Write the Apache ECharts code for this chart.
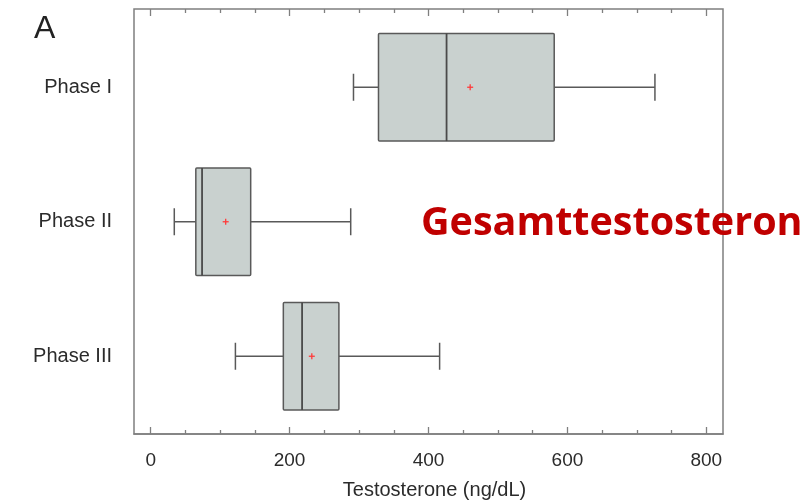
<!DOCTYPE html>
<html>
<head>
<meta charset="utf-8">
<script src="https://cdn.jsdelivr.net/npm/echarts@6/dist/echarts.min.js"></script>
<style>
  html, body { margin: 0; padding: 0; background: #fff; }
  #chart { width: 810px; height: 502px; }
</style>
</head>
<body>
<div id="chart"></div>
<script>
// values (ng/dL)
const phases = ['Phase I', 'Phase II', 'Phase III'];
const whiskerLow = [292, 34, 122];
const q1 = [328, 65, 191];
const median = [426, 74, 218];
const q3 = [581, 144, 271];
const whiskerHigh = [726, 288, 416];
const means = [460, 108, 232];

const majorTicks = [0, 200, 400, 600, 800];
const minorTicks = [50, 100, 150, 250, 300, 350, 450, 500, 550, 650, 700, 750];

const xMin = -24;
const xMax = 824;
const frameColor = '#7f7f7f';
const boxLine = '#595959';

const boxData = phases.map((p, i) => [i, whiskerLow[i], q1[i], median[i], q3[i], whiskerHigh[i], means[i]]);

// draws one box with whiskers, short caps and a red mean cross
function renderBox(params, api) {
    const cat = api.value(0);
    const lo = api.coord([api.value(1), cat]);
    const b1 = api.coord([api.value(2), cat]);
    const md = api.coord([api.value(3), cat]);
    const b3 = api.coord([api.value(4), cat]);
    const hi = api.coord([api.value(5), cat]);
    const mn = api.coord([api.value(6), cat]);
    const y = lo[1];
    const half = api.size([0, 1])[1] * 0.4;
    const cap = 13.5;
    const lineStyle = { stroke: boxLine, lineWidth: 1.5, fill: null };
    const red = { stroke: '#ff3b3b', lineWidth: 1.3 };

    return {
        type: 'group',
        children: [
            { type: 'line', shape: { x1: lo[0], y1: y, x2: b1[0], y2: y }, style: lineStyle },
            { type: 'line', shape: { x1: b3[0], y1: y, x2: hi[0], y2: y }, style: lineStyle },
            { type: 'line', shape: { x1: lo[0], y1: y - cap, x2: lo[0], y2: y + cap }, style: lineStyle },
            { type: 'line', shape: { x1: hi[0], y1: y - cap, x2: hi[0], y2: y + cap }, style: lineStyle },
            {
                type: 'rect',
                shape: { x: b1[0], y: y - half, width: b3[0] - b1[0], height: half * 2, r: 1 },
                style: { fill: '#c9d1cf', stroke: boxLine, lineWidth: 1.5 }
            },
            { type: 'line', shape: { x1: md[0], y1: y - half, x2: md[0], y2: y + half }, style: { stroke: '#4a4a4a', lineWidth: 1.8 } },
            { type: 'line', shape: { x1: mn[0] - 3, y1: mn[1], x2: mn[0] + 3, y2: mn[1] }, style: red },
            { type: 'line', shape: { x1: mn[0], y1: mn[1] - 3, x2: mn[0], y2: mn[1] + 3 }, style: red }
        ]
    };
}

function tickAxis(position, values, length, withLabels) {
    return {
        type: 'value',
        gridIndex: 0,
        position: position,
        min: xMin,
        max: xMax,
        axisLine: { show: withLabels, lineStyle: { color: frameColor, width: 1.5 } },
        axisTick: { show: true, inside: true, length: length, customValues: values, lineStyle: { color: frameColor, width: 1.3 } },
        axisLabel: withLabels
            ? { show: true, customValues: values, fontSize: 19, color: '#2b2b2b', margin: 17, fontFamily: 'Liberation Sans' }
            : { show: false },
        splitLine: { show: false }
    };
}

const chart = echarts.init(document.getElementById('chart'));

const bottomAxis = tickAxis('bottom', majorTicks, 7, true);
bottomAxis.name = 'Testosterone (ng/dL)';
bottomAxis.nameLocation = 'middle';
bottomAxis.nameGap = 46;
bottomAxis.nameTextStyle = { fontSize: 20, color: '#2b2b2b', fontFamily: 'Liberation Sans', padding: [0, 0, 0, 12] };

chart.setOption({
    animation: false,
    backgroundColor: '#fff',
    textStyle: { fontFamily: 'Liberation Sans' },
    grid: [
        { left: 134, right: 87, top: 9, bottom: 68, outerBoundsMode: 'none', show: true, borderColor: frameColor, borderWidth: 1.5, backgroundColor: 'transparent' },
        { left: 134, right: 87, top: 20, bottom: 78.5, outerBoundsMode: 'none' }
    ],
    xAxis: [
        bottomAxis,
        tickAxis('bottom', minorTicks, 4, false),
        tickAxis('top', majorTicks, 7, false),
        tickAxis('top', minorTicks, 4, false),
        { type: 'value', gridIndex: 1, min: xMin, max: xMax, show: false }
    ],
    yAxis: [
        { type: 'value', gridIndex: 0, min: 0, max: 1, show: false },
        {
            type: 'category',
            gridIndex: 1,
            data: phases,
            inverse: true,
            axisLine: { show: false },
            axisTick: { show: false },
            splitLine: { show: false },
            axisLabel: { fontSize: 20, color: '#2b2b2b', margin: 22, fontFamily: 'Liberation Sans' }
        }
    ],
    graphic: [
        {
            type: 'text', left: 34, top: 13,
            style: { text: 'A', fontSize: 32, fill: '#222', fontFamily: 'Liberation Sans' }
        },
        {
            type: 'text', left: 421, top: 204, z: 100,
            style: { text: 'Gesamttestosteron', fontSize: 39.5, fontWeight: 'bold', fill: '#c00000', fontFamily: 'Open Sans' }
        }
    ],
    series: [{
        type: 'custom',
        xAxisIndex: 4,
        yAxisIndex: 1,
        renderItem: renderBox,
        encode: { x: [1, 2, 3, 4, 5, 6], y: 0 },
        data: boxData
    }]
});
</script>
</body>
</html>
